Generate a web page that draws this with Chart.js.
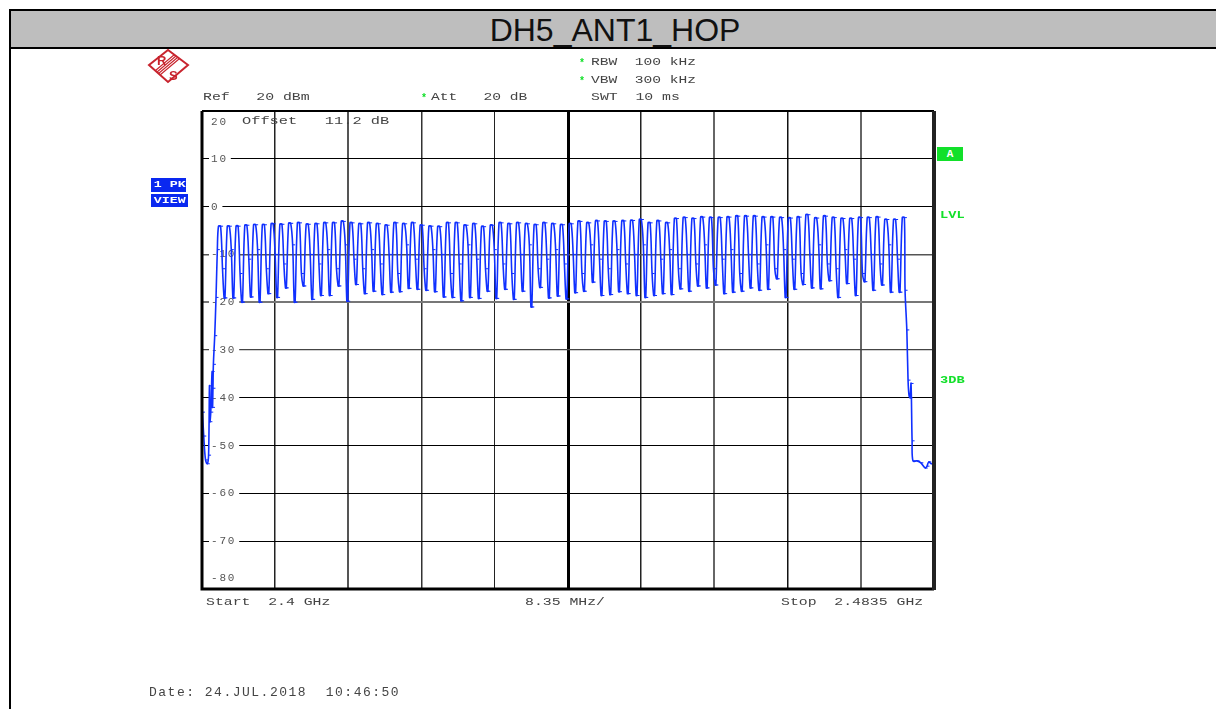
<!DOCTYPE html>
<html>
<head>
<meta charset="utf-8">
<title>DH5_ANT1_HOP</title>
<script src="https://cdn.jsdelivr.net/npm/chart.js@4"></script>
<style>
html, body { margin:0; padding:0; width:1216px; height:709px; overflow:hidden; background:#fff; }
#mycanvas { position:absolute; left:0; top:0; }
#head { position:absolute; left:9px; top:9px; width:1207px; height:36px; background:#bebebe; border:solid #000; border-width:2px 0 2px 2px;
  font:32px "Liberation Sans",sans-serif; line-height:39px; text-align:center; color:#111; overflow:hidden; }
#head span { position:relative; left:0.5px; }
#lside { position:absolute; left:9px; top:49px; width:2px; height:660px; background:#000; }
.t { position:absolute; font:10.5px "Liberation Mono",monospace; line-height:12px; color:#444; white-space:pre; transform-origin:left center; transform:scaleX(1.41); }
.g { color:#12e02a; font-weight:bold; transform:scaleX(1.3); }
.star { position:absolute; color:#12e02a; font:bold 10px "Liberation Mono",monospace; line-height:12px; }
.blue { position:absolute; background:#0a28f0; color:#fff; font:bold 9.5px "Liberation Mono",monospace; white-space:pre; }
.blue span { display:inline-block; transform-origin:left center; transform:scaleX(1.4); padding-left:2px; }
#badgeA { position:absolute; left:937px; top:147px; width:26px; height:14px; background:#12e02a; color:#fff; font:bold 11px "Liberation Mono",monospace; line-height:14px; text-align:center; }
#date { position:absolute; left:149px; top:686px; font:13px "Liberation Mono",monospace; line-height:14px; letter-spacing:1.5px; color:#444; white-space:pre; }
#logo { position:absolute; left:146px; top:48px; }
</style>
</head>
<body>
<canvas id="mycanvas" width="1216" height="709"></canvas>
<div id="head"><span>DH5_ANT1_HOP</span></div>
<div id="lside"></div>

<svg id="logo" width="46" height="38" viewBox="146 48 46 38">
  <polygon points="149,65 168,50 188,65 168,82" fill="#fff" stroke="#c8242e" stroke-width="2"/>
  <path d="M176,56 L157,72 M177.5,57.5 L158.5,73.5 M179,59 L160,75 M174.5,54.5 L155.5,70.5" stroke="#c8242e" stroke-width="1.1" fill="none"/>
  <text x="157" y="65" font-family="Liberation Sans" font-weight="bold" font-size="13" fill="#c8242e">R</text>
  <text x="169" y="80" font-family="Liberation Sans" font-weight="bold" font-size="13" fill="#c8242e">S</text>
</svg>

<div class="star" style="left:579px;top:58px">*</div>
<div class="t" style="left:591px;top:56px;transform:scaleX(1.39)">RBW  100 kHz</div>
<div class="star" style="left:579px;top:76px">*</div>
<div class="t" style="left:591px;top:74px;transform:scaleX(1.39)">VBW  300 kHz</div>
<div class="t" style="left:591px;top:91px">SWT  10 ms</div>
<div class="t" style="left:203px;top:91px">Ref   20 dBm</div>
<div class="star" style="left:421px;top:93px">*</div>
<div class="t" style="left:431px;top:91px;transform:scaleX(1.39)">Att   20 dB</div>
<div class="t" style="left:242px;top:115px;transform:scaleX(1.46)">Offset   11.2 dB</div>
<div class="blue" style="left:151px;top:178px;width:35px;height:14px;line-height:14px"><span>1 PK</span></div>
<div class="blue" style="left:151px;top:194px;width:37px;height:13px;line-height:13px"><span>VIEW</span></div>
<div id="badgeA">A</div>
<div class="t g" style="left:940px;top:209px">LVL</div>
<div class="t g" style="left:940px;top:374px">3DB</div>
<div class="t" style="left:206px;top:596px">Start  2.4 GHz</div>
<div class="t" style="left:525px;top:596px">8.35 MHz/</div>
<div class="t" style="left:781px;top:596px">Stop  2.4835 GHz</div>
<div id="date">Date: 24.JUL.2018  10:46:50</div>

<script>
// hop channels, MHz
var channels = [2402,2403,2404,2405,2406,2407,2408,2409,2410,2411,2412,2413,2414,2415,2416,2417,2418,2419,2420,
  2421,2422,2423,2424,2425,2426,2427,2428,2429,2430,2431,2432,2433,2434,2435,2436,2437,2438,2439,2440,
  2441,2442,2443,2444,2445,2446,2447,2448,2449,2450,2451,2452,2453,2454,2455,2456,2457,2458,2459,2460,
  2461,2462,2463,2464,2465,2466,2467,2468,2469,2470,2471,2472,2473,2474,2475,2476,2477,2478,2479,2480];

// top of each hop, dBm
var peaks = [-4.1,-4.1,-4.1,-3.9,-3.8,-3.8,-3.6,-3.7,-3.5,-3.4,-3.7,-3.6,-3.4,-3.4,-3.1,-3.4,-3.6,-3.4,-3.6,-3.9,
  -3.4,-3.6,-3.4,-3.9,-4.1,-4.2,-3.4,-3.4,-3.9,-3.6,-4.2,-3.9,-3.4,-3.6,-3.4,-3.6,-3.8,-3.4,-3.6,
  -3.8,-3.6,-3.1,-3.4,-3.0,-3.1,-3.1,-3.0,-2.9,-2.7,-3.4,-3.0,-3.4,-2.5,-2.3,-2.5,-2.2,-2.3,-2.3,-2.2,
  -2.0,-2.0,-2.0,-2.2,-2.2,-2.3,-2.4,-2.2,-1.7,-2.4,-2.0,-2.3,-2.5,-2.5,-2.3,-2.3,-2.2,-2.7,-2.7,-2.3];

// dip after each hop, dBm
var valleys = [-19.1,-19.1,-20,-18.9,-20,-18.2,-19,-17,-20,-16.6,-19.4,-18.6,-18.6,-16.6,-19.8,-16.3,-18.2,-17.7,-18.4,-17.9,
  -17.8,-17.1,-17.3,-17.5,-17.8,-18.9,-19,-19.7,-19,-19.2,-17.7,-19.2,-17.3,-19.4,-17.7,-21,-16.9,-19.1,-18.7,
  -19.3,-18,-17.7,-15.8,-18.6,-18.4,-17.8,-18.2,-18.6,-19,-18.6,-18.2,-18.4,-17.2,-17.7,-16.6,-17,-16.4,-18.2,-17.9,
  -17.7,-17,-17.5,-17.3,-15.1,-19,-17.3,-16.3,-17,-17.2,-15.5,-19,-16.1,-18.6,-15.7,-17.5,-16.4,-17.9,-17.9];

// small step on the falling flank, dBm
var flanks = [-13,-9,-14,-11,-9,-13,-10,-12,-8,-14,-10,-12,-9,-13,-8,-11,-13,-9,-12,-10,
  -14,-8,-11,-13,-9,-10,-14,-12,-8,-11,-13,-9,-12,-14,-10,-8,-13,-11,-9,
  -12,-10,-14,-8,-11,-13,-9,-12,-10,-8,-14,-11,-9,-13,-10,-12,-8,-13,-11,-9,
  -14,-10,-12,-8,-13,-9,-11,-14,-10,-8,-12,-13,-9,-11,-14,-10,-12,-8,-11];

// sweep start and the band edge roll-off
var startEdgeFreq = [2400.05,2400.2,2400.4,2400.6,2400.75,2400.85,2400.9,2401,2401.15,2401.2,2401.25,2401.3,2401.45,2401.6,2401.75];
var startEdgeLevel = [-43,-48,-53,-53.8,-52,-37.5,-45,-43,-34.5,-42,-38,-33,-27,-19,-9];
var stopEdgeFreq = [2480.2,2480.4,2480.54,2480.65,2480.77,2480.88,2481,2481.1,2481.56,2482,2482.5,2482.7,2482.9,2483.2,2483.4];
var stopEdgeLevel = [-17.5,-25.8,-36.3,-39.5,-40,-37,-49,-53.2,-53.2,-53.6,-54.7,-54.3,-53.4,-53.8,-53.6];

// axis labels
var yTickLabels = { '20':['','','20'], '10':'10', '0':'0', '-10':'-10', '-20':'-20', '-30':'-30', '-40':'-40',
  '-50':'-50', '-60':'-60', '-70':'-70', '-80':['-80','',''] };

var trace = [];
for (var i = 0; i < startEdgeFreq.length; i++) trace.push({ x: startEdgeFreq[i], y: startEdgeLevel[i] });
for (var k = 0; k < channels.length; k++) {
  trace.push({ x: channels[k] - 0.12, y: peaks[k] });
  trace.push({ x: channels[k] + 0.12, y: peaks[k] });
  if (k < valleys.length) {
    trace.push({ x: channels[k] + 0.34, y: flanks[k] });
    trace.push({ x: channels[k] + 0.52, y: valleys[k] });
    trace.push({ x: channels[k] + 0.62, y: valleys[k] });
  }
}
for (var j = 0; j < stopEdgeFreq.length; j++) trace.push({ x: stopEdgeFreq[j], y: stopEdgeLevel[j] });

var xGridColor = { 2:'#222', 3:'#555', 4:'#333', 5:'#222', 6:'#000', 7:'#222', 8:'#666', 9:'#111', 10:'#666' };
var xGridWidth = { 2:1.5, 3:2, 4:1.5, 5:1, 6:3, 7:1.5, 8:2, 9:1.5, 10:2 };
var yGridColor = { '-30':'#444', '-20':'#777', '-10':'#555' };
var yGridWidth = { '-30':1.3, '-20':2, '-10':1.5 };

var spacedText = {
  id: 'spacedText',
  beforeUpdate: function(chart) { chart.ctx.letterSpacing = '1.8px'; },
  beforeDraw: function(chart) { chart.ctx.letterSpacing = '1.8px'; }
};

var frame = {
  id: 'frame',
  afterDraw: function(chart) {
    var a = chart.chartArea, c = chart.ctx;
    c.save();
    c.strokeStyle = '#000';
    c.lineWidth = 2;
    c.beginPath(); c.moveTo(a.left, a.top); c.lineTo(a.right, a.top); c.stroke();
    c.lineWidth = 3;
    c.beginPath(); c.moveTo(a.left, a.top); c.lineTo(a.left, a.bottom); c.lineTo(a.right, a.bottom); c.stroke();
    c.strokeStyle = '#222';
    c.lineWidth = 4;
    c.beginPath(); c.moveTo(a.right, a.top); c.lineTo(a.right, a.bottom + 1); c.stroke();
    c.restore();
  }
};

var LineGraph = new Chart(document.getElementById('mycanvas'), {
  type: 'line',
  data: {
    datasets: [{
      label: '1 PK VIEW',
      data: trace,
      borderColor: '#1030ff',
      borderWidth: 1.6,
      tension: 0.35,
      pointStyle: 'dash',
      pointRadius: 2.5,
      pointBorderColor: '#1030ff',
      pointBorderWidth: 1
    }]
  },
  options: {
    responsive: false,
    animation: false,
    parsing: false,
    layout: { padding: { left: 184, top: 111, right: 282, bottom: 120 } },
    plugins: { legend: { display: false }, tooltip: { enabled: false }, title: { display: false } },
    scales: {
      x: {
        type: 'linear',
        min: 2400,
        max: 2483.5,
        border: { display: false },
        grid: {
          drawTicks: false,
          color: function(ctx) { return xGridColor[ctx.index + 1] || '#000'; },
          lineWidth: function(ctx) { return xGridWidth[ctx.index + 1] || 1; }
        },
        ticks: { display: false, stepSize: 8.35 }
      },
      y: {
        min: -80,
        max: 20,
        border: { display: false },
        grid: {
          drawTicks: false,
          color: function(ctx) { return yGridColor[ctx.tick.value] || '#000'; },
          lineWidth: function(ctx) { return yGridWidth[ctx.tick.value] || 1; }
        },
        ticks: {
          stepSize: 10,
          mirror: true,
          padding: 9,
          color: '#555',
          font: { family: '"Liberation Mono", monospace', size: 11, lineHeight: '11px' },
          showLabelBackdrop: function(ctx) { return ctx.tick.value !== -80 && ctx.tick.value !== 20; },
          backdropColor: '#fff',
          backdropPadding: { left: 2, right: 3, top: 0, bottom: 0 },
          callback: function(v) { return yTickLabels[v]; }
        }
      }
    }
  },
  plugins: [spacedText, frame]
});
</script>
</body>
</html>
